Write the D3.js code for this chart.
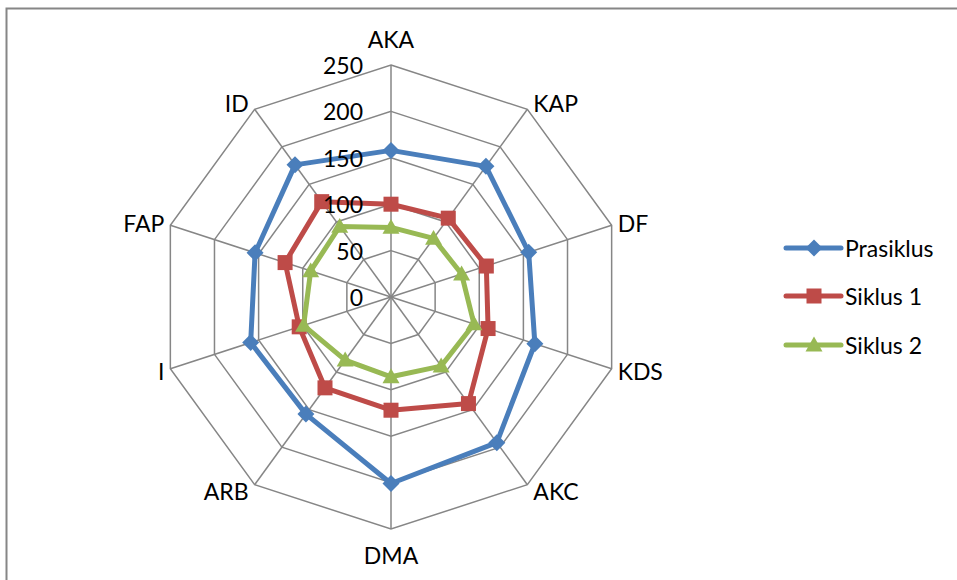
<!DOCTYPE html>
<html><head><meta charset="utf-8">
<script src="https://cdn.jsdelivr.net/npm/d3@7"></script>
<style>html,body{margin:0;padding:0;background:#fff;}svg{display:block;}</style>
</head><body>
<svg id="chart" width="957" height="580"></svg>
<script>
const categories = ["AKA","KAP","DF","KDS","AKC","DMA","ARB","I","FAP","ID"];
const prasiklus = [158,174,156,163,194,201,156,159,154,176];
const siklus1   = [100,105,108,110,142,122,121,104,120,127];
const siklus2   = [75,78,80,94,92,86,84,99,91,94];
const seriesNames = ["Prasiklus","Siklus 1","Siklus 2"];
const tickValues = [0,50,100,150,200,250];

const svg = d3.select("#chart");
const W = 957, H = 580;
const cx = 391, cy = 297, R = 232;
const font = "Lato, 'Liberation Sans', sans-serif";
const fs = 23;

svg.append("rect").attr("x",0).attr("y",0).attr("width",W).attr("height",H).attr("fill","#fff");
svg.append("rect").attr("x",6.5).attr("y",8.5).attr("width",W+10).attr("height",H+10)
  .attr("fill","none").attr("stroke","#868686").attr("stroke-width",2);

const r = d3.scaleLinear().domain([0,250]).range([0,R]);
const angle = d3.scaleLinear().domain([0,categories.length]).range([0,2*Math.PI]);
const pt = (i,v) => [cx + r(v)*Math.sin(angle(i)), cy - r(v)*Math.cos(angle(i))];

const g = svg.append("g");
const gridColor = "#868686";
tickValues.filter(t=>t>0).forEach(t=>{
  g.append("path")
    .attr("d", d3.line()(categories.map((c,i)=>pt(i,t))) + "Z")
    .attr("fill","none").attr("stroke",gridColor).attr("stroke-width",1.5);
});
categories.forEach((c,i)=>{
  const p = pt(i,250);
  g.append("line").attr("x1",cx).attr("y1",cy).attr("x2",p[0]).attr("y2",p[1])
    .attr("stroke",gridColor).attr("stroke-width",1.5);
});

categories.forEach((c,i)=>{
  const a = angle(i), s = Math.sin(a), co = Math.cos(a);
  const p = pt(i,250);
  let x = p[0], y = p[1], anchor;
  if (Math.abs(s) < 0.1) { anchor = "middle"; y = p[1] - co*26; }
  else { anchor = s>0 ? "start" : "end"; x = p[0] + (s>0?6:-6); y = p[1] - co*8; }
  svg.append("text").attr("x",x).attr("y",y).attr("text-anchor",anchor)
    .attr("dominant-baseline","central").attr("font-family",font).attr("font-size",fs)
    .attr("fill","#000").text(c);
});

const colors = ["#4A7EBB","#BE4B48","#98B954"];
const data = [prasiklus, siklus1, siklus2];

function marker(sel, k, x, y){
  if (k===0) {
    const s = 8.5;
    sel.append("path").attr("d",`M${x},${y-s}L${x+s},${y}L${x},${y+s}L${x-s},${y}Z`).attr("fill",colors[0]);
  } else if (k===1) {
    const s = 7.5;
    sel.append("rect").attr("x",x-s).attr("y",y-s).attr("width",2*s).attr("height",2*s).attr("fill",colors[1]);
  } else {
    const s = 8.5;
    sel.append("path").attr("d",`M${x},${y-s}L${x+s},${y+s*0.75}L${x-s},${y+s*0.75}Z`).attr("fill",colors[2]);
  }
}

data.forEach((vals,k)=>{
  const pts = vals.map((v,i)=>pt(i,v));
  const sg = svg.append("g");
  sg.append("path").attr("d", d3.line()(pts)+"Z").attr("fill","none")
    .attr("stroke",colors[k]).attr("stroke-width",5).attr("stroke-linejoin","round");
  pts.forEach(p=>marker(sg,k,p[0],p[1]));
});

tickValues.forEach(t=>{
  svg.append("text").attr("x",cx-28).attr("y",cy - r(t)).attr("text-anchor","end")
    .attr("dominant-baseline","central").attr("font-family",font).attr("font-size",fs)
    .attr("fill","#000").text(t);
});

const legY = [248, 296, 345];
seriesNames.forEach((n,k)=>{
  const lg = svg.append("g");
  lg.append("line").attr("x1",786).attr("x2",841).attr("y1",legY[k]).attr("y2",legY[k])
    .attr("stroke",colors[k]).attr("stroke-width",5).attr("stroke-linecap","round");
  marker(lg,k,814,legY[k]);
  lg.append("text").attr("x",845).attr("y",legY[k]).attr("dominant-baseline","central")
    .attr("font-family",font).attr("font-size",fs).attr("fill","#000").text(n);
});
</script>
</body></html>
